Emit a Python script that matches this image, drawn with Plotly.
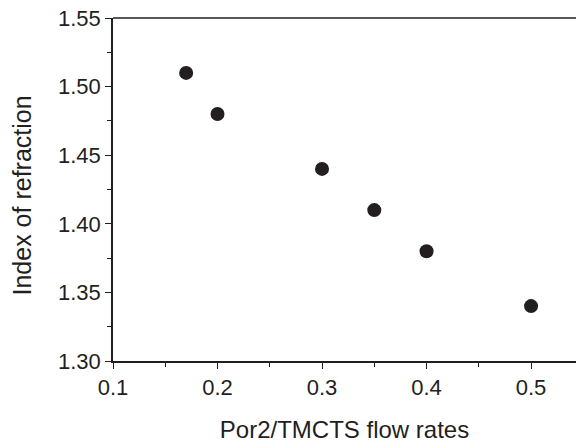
import plotly.graph_objects as go

flow_rates = [0.17, 0.20, 0.30, 0.35, 0.40, 0.50]
refr_index = [1.51, 1.48, 1.44, 1.41, 1.38, 1.34]

x_ticks = [0.1, 0.2, 0.3, 0.4, 0.5]
x_tick_labels = ["0.1", "0.2", "0.3", "0.4", "0.5"]
y_ticks = [1.30, 1.35, 1.40, 1.45, 1.50, 1.55]
y_tick_labels = ["1.30", "1.35", "1.40", "1.45", "1.50", "1.55"]

axis_color = "#231f20"
font_family = "Liberation Sans, Arial, sans-serif"

fig = go.Figure()
fig.add_trace(go.Scatter(
    x=flow_rates, y=refr_index, mode="markers",
    marker=dict(size=14, color="#231f20", line=dict(width=0)),
    showlegend=False,
))

fig.update_layout(
    width=576, height=443,
    margin=dict(l=113, r=0, t=18, b=82),
    plot_bgcolor="white", paper_bgcolor="white",
    font=dict(family=font_family, color="#231f20"),
    xaxis=dict(
        range=[0.1, 0.543], tickvals=x_ticks, ticktext=x_tick_labels,
        showgrid=False, zeroline=False, showline=True, linecolor=axis_color, linewidth=1.5,
        ticks="outside", ticklen=6, tickwidth=1.2, tickcolor=axis_color,
        tickfont=dict(size=22, family=font_family, color="#231f20"),
        minor=dict(ticks="outside", ticklen=4, tickwidth=1.2, tickcolor=axis_color, dtick=0.05, tick0=0.05),
        title=dict(text="Por2/TMCTS flow rates", font=dict(size=24, family=font_family), standoff=22),
    ),
    yaxis=dict(
        range=[1.30, 1.55], tickvals=y_ticks, ticktext=y_tick_labels,
        showgrid=False, zeroline=False, showline=True, linecolor=axis_color, linewidth=1.5,
        ticks="outside", ticklen=6, tickwidth=1.2, tickcolor=axis_color,
        tickfont=dict(size=22, family=font_family, color="#231f20"),
        minor=dict(ticks="outside", ticklen=4, tickwidth=1.2, tickcolor=axis_color, dtick=0.025, tick0=1.275),
    ),
    annotations=[dict(text="Index of refraction", textangle=-90, showarrow=False,
                      xref="paper", yref="paper", x=-91 / 463, y=(361 - 195.5) / 343,
                      xanchor="center", yanchor="middle",
                      font=dict(size=25, family=font_family, color="#231f20"))],
    shapes=[dict(type="line", xref="paper", yref="paper", x0=0, x1=1, y0=1, y1=1,
                 line=dict(color=axis_color, width=1.5))],
)

fig.write_html("out.html")
